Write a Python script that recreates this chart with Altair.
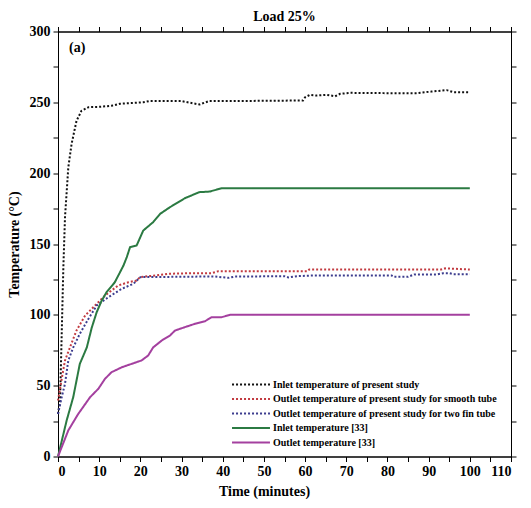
import altair as alt
import pandas as pd

FONT = "Liberation Serif"

series_names = [
    "Inlet temperature of present study",
    "Outlet temperature of present study for smooth tube",
    "Outlet temperature of present study for two fin tube",
    "Inlet temperature [33]",
    "Outlet temperature [33]",
]
series_colors = ["#111111", "#c23a40", "#3c3c8e", "#2b7a42", "#a4409f"]
series_dashes = [[2, 2], [2, 2], [2, 2], [1, 0], [1, 0]]

# Inlet temperature of present study (black dotted)
inlet_t = [0, 0.5, 0.9, 1.3, 1.7, 2.5, 3.3, 4.5, 5.7, 7.4, 10, 13.4, 15, 20.7, 22.3,
           29.8, 32.8, 34.4, 36.8, 46.6, 59.5, 60, 61.2, 62.8, 65.2, 67.3, 68.5,
           70.9, 79, 87, 90.7, 94.4, 96, 100]
inlet_T = [30, 39.5, 86.6, 133.6, 169, 204, 220.7, 237, 244, 246.6, 246.8, 247.7, 249,
           250, 251, 251, 249.3, 248.5, 251, 251, 251.3, 253.6, 255.3, 254.8, 255.3,
           254.3, 256, 256.7, 256.5, 256.5, 257.6, 258.6, 257.2, 257.2]

# Outlet temperature, smooth tube (red dotted)
smooth_t = [0, 0.9, 1.7, 2.9, 4.5, 6.6, 9, 11.4, 14.6, 17.1, 19.1, 19.9, 23.6, 26.8,
            32.5, 37.3, 38.9, 47.8, 60.5, 61, 66, 93, 94, 100]
smooth_T = [39.5, 54.8, 67.8, 77, 89, 99.5, 106.6, 113.6, 120.7, 123, 124.2, 126.6,
            127.8, 129, 129.4, 129.4, 130.8, 130.8, 130.8, 132, 132, 132, 132.8, 132]

# Outlet temperature, two fin tube (blue dotted)
fin_t = [0, 0.9, 1.7, 2.5, 3.7, 5.3, 7.4, 9.4, 12.2, 15.5, 18.3, 20, 34.9, 38.2, 41.4,
         43, 55, 56, 58, 62, 81, 81.5, 85, 86.5, 92, 93.5, 95, 96, 100]
fin_T = [30, 41.9, 51.3, 67.8, 77, 86.6, 97.2, 106.6, 112.4, 118.4, 121.9, 126.6, 127,
         127, 126.1, 127, 127.3, 126.4, 127.3, 127.8, 127.8, 126.8, 126.8, 128.5, 128.5,
         129.4, 129.4, 128.7, 128.7]

# Inlet temperature [33] (green solid)
ref_in_t = [0, 2.1, 3.7, 5.3, 7, 8.2, 9.4, 10.6, 11.8, 13.8, 15.9, 16.7, 17.5, 19.1,
            20.7, 23.1, 24.8, 27.2, 30.8, 34.3, 36.8, 39.8, 100]
ref_in_T = [0, 25.4, 41.9, 65.4, 77, 91, 101.9, 110, 116, 123, 134.8, 140.7, 147.8,
            149, 159.5, 165.4, 171.3, 176, 182.3, 186.6, 187, 189.4, 189.4]

# Outlet temperature [33] (purple solid)
ref_out_t = [0, 2.5, 4.9, 7.8, 9.8, 11.4, 13, 15.5, 17.9, 20.3, 21.9, 23.1, 25.2, 27.2,
             28.4, 30.8, 33.3, 35.7, 37.3, 39.7, 41.8, 100]
ref_out_T = [0, 18.4, 30, 41.9, 47.8, 54.8, 59.5, 63, 65.4, 67.8, 71.3, 77, 81.9, 85.4,
             88.9, 91.3, 93.7, 95.5, 98.3, 98.3, 100, 100]

x_ticks = list(range(0, 111, 5))
y_ticks = list(range(0, 301, 25))
chart_title = "Load 25%"
panel_label = "(a)"
x_title = "Time (minutes)"
y_title = "Temperature (°C)"

all_t = [inlet_t, smooth_t, fin_t, ref_in_t, ref_out_t]
all_T = [inlet_T, smooth_T, fin_T, ref_in_T, ref_out_T]
rows = []
for name, ts, vs in zip(series_names, all_t, all_T):
    for i, (t, v) in enumerate(zip(ts, vs)):
        rows.append({"series": name, "t": t, "T": v, "order": i})
df = pd.DataFrame(rows)

xscale = alt.Scale(domain=[0, 110], nice=False)
yscale = alt.Scale(domain=[0, 300], nice=False)

lines = alt.Chart(df).mark_line(strokeWidth=2).encode(
    x=alt.X("t:Q", scale=xscale, axis=alt.Axis(
        values=x_ticks, labelExpr="datum.value % 10 === 0 ? datum.label : ''",
        title=x_title, titleX=206, titlePadding=6, labelPadding=3)),
    y=alt.Y("T:Q", scale=yscale, axis=alt.Axis(
        values=y_ticks, labelExpr="datum.value % 50 === 0 ? datum.label : ''",
        title=y_title, titlePadding=8, labelPadding=3)),
    color=alt.Color("series:N", sort=series_names,
                    scale=alt.Scale(domain=series_names, range=series_colors),
                    legend=alt.Legend(title=None)),
    strokeDash=alt.StrokeDash("series:N", sort=series_names,
                              scale=alt.Scale(domain=series_names, range=series_dashes),
                              legend=alt.Legend(title=None)),
    order="order:Q",
)

frame = alt.Chart(df).mark_point(opacity=0).encode(
    x=alt.X("t:Q", scale=xscale, axis=alt.Axis(
        orient="top", values=x_ticks, labels=False, title=None)),
    y=alt.Y("T:Q", scale=yscale, axis=alt.Axis(
        orient="right", values=y_ticks, labels=False, title=None)),
)

label = alt.Chart(pd.DataFrame({"txt": [panel_label]})).mark_text(
    font=FONT, fontSize=14, fontWeight="bold", align="left", baseline="middle", color="black"
).encode(x=alt.value(11), y=alt.value(16), text="txt:N")

chart = alt.layer(lines, frame, label).resolve_axis(
    x="independent", y="independent"
).properties(
    width=453,
    height=425,
    title=alt.Title(chart_title, font=FONT, fontSize=14, fontWeight="bold",
                    color="black", offset=1),
    autosize=alt.AutoSizeParams(type="none"),
    padding={"left": 50, "top": 23.5, "right": 10, "bottom": 43},
).configure_view(
    stroke="black", strokeWidth=1
).configure_axis(
    grid=False, domainColor="black", tickColor="black", tickSize=5,
    labelColor="black", titleColor="black", labelFont=FONT, titleFont=FONT,
    labelFontSize=14, titleFontSize=14, labelFontWeight="bold", titleFontWeight="bold",
).configure_legend(
    orient="none", legendX=187, legendY=347, padding=0,
    symbolType="M-4,0H4", symbolSize=90, symbolStrokeWidth=2,
    labelFont=FONT, labelFontSize=10, labelFontWeight="bold", labelColor="black",
    labelOffset=16, rowPadding=3.5, labelLimit=400,
)

chart.save("out.html", embed_options={"renderer": "svg", "actions": False})
